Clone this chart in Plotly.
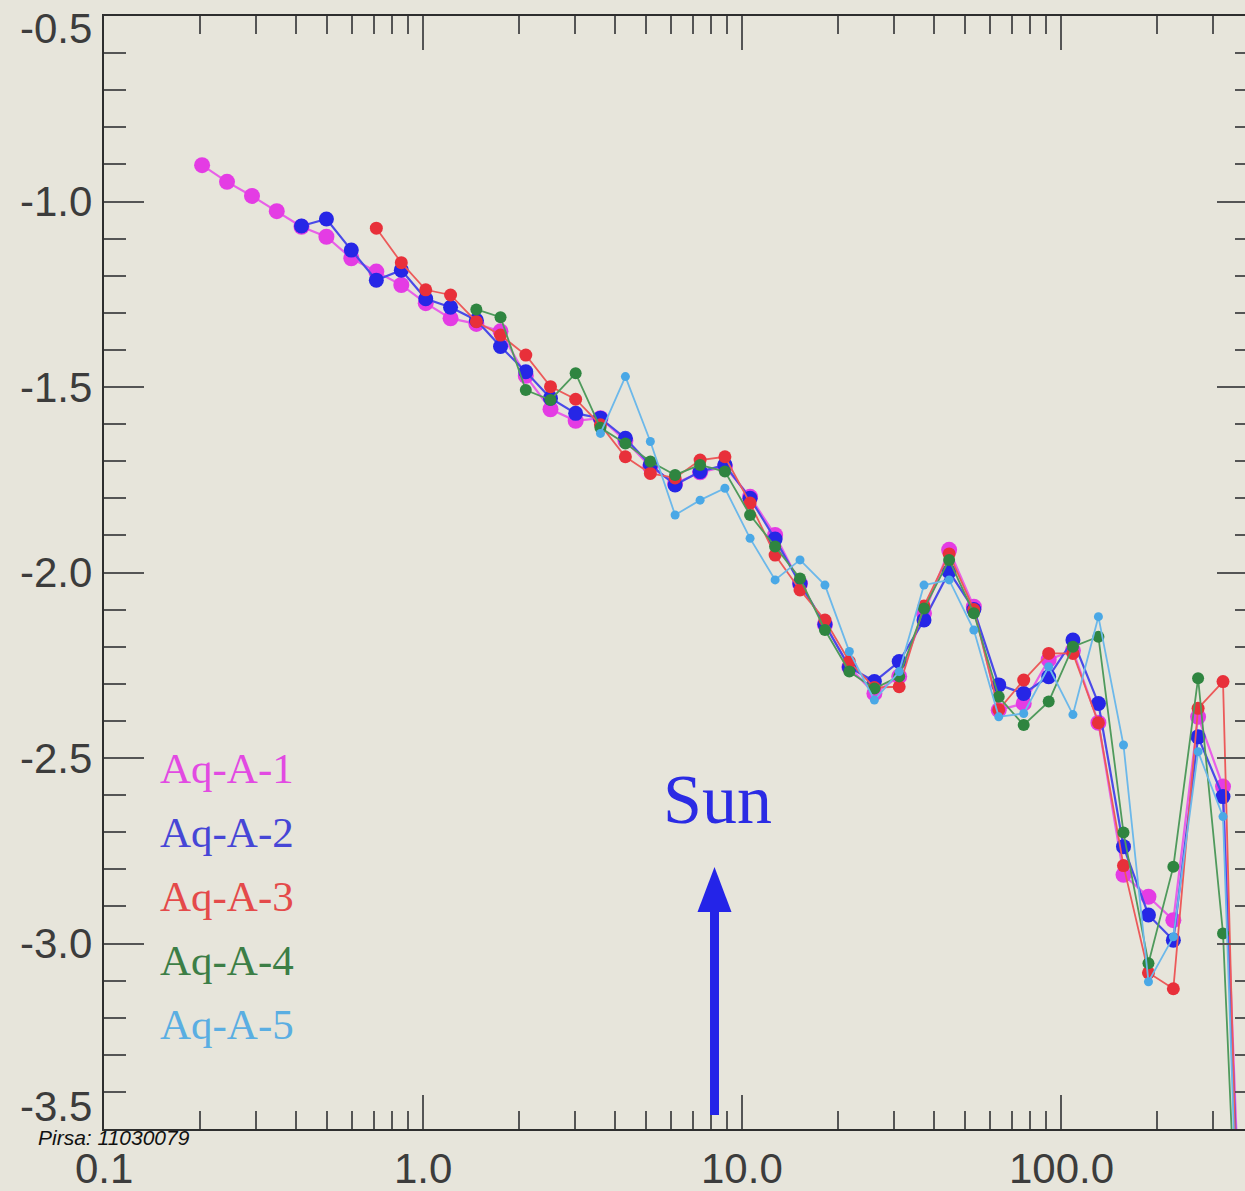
import math
import plotly.graph_objects as go

# ---------------- data ----------------
radius = [0.203, 0.243, 0.291, 0.348, 0.416, 0.498, 0.596, 0.714, 0.855, 1.02,
          1.22, 1.47, 1.75, 2.10, 2.51, 3.01, 3.60, 4.31, 5.16, 6.17,
          7.39, 8.84, 10.6, 12.7, 15.2, 18.2, 21.7, 26.0, 31.1, 37.2,
          44.6, 53.3, 63.8, 76.4, 91.5, 109.0, 131.0, 157.0, 188.0, 225.0,
          269.0, 322.0, 385.0]

aq_a_1 = [-0.902, -0.947, -0.985, -1.026, -1.068, -1.095, -1.153, -1.189, -1.225, -1.274,
          -1.315, -1.330, -1.350, -1.470, -1.560, -1.591, -1.584, -1.645, -1.715, -1.760,
          -1.730, -1.715, -1.796, -1.899, -2.030, -2.140, -2.255, -2.326, -2.280, -2.110,
          -1.939, -2.092, -2.371, -2.353, -2.235, -2.210, -2.405, -2.815, -2.874, -2.937,
          -2.389, -2.577, -4.30]

aq_a_2 = [None, None, None, None, -1.066, -1.047, -1.131, -1.212, -1.185, -1.262,
          -1.285, -1.320, -1.391, -1.459, -1.530, -1.571, -1.584, -1.638, -1.710, -1.764,
          -1.728, -1.710, -1.800, -1.910, -2.030, -2.140, -2.255, -2.294, -2.240, -2.128,
          -1.998, -2.100, -2.303, -2.326, -2.281, -2.182, -2.353, -2.739, -2.923, -2.991,
          -2.443, -2.604, -4.40]

aq_a_3 = [None, None, None, None, None, None, None, -1.072, -1.165, -1.238,
          -1.252, -1.324, -1.360, -1.414, -1.499, -1.533, -1.602, -1.688, -1.733, -1.745,
          -1.697, -1.688, -1.813, -1.953, -2.047, -2.128, -2.240, -2.310, -2.308, -2.090,
          -1.950, -2.100, -2.370, -2.290, -2.218, -2.218, -2.405, -2.790, -3.079, -3.122,
          -2.366, -2.294, -4.80]

aq_a_4 = [None, None, None, None, None, None, None, None, None, None,
          None, -1.291, -1.312, -1.508, -1.535, -1.463, -1.610, -1.652, -1.701, -1.737,
          -1.710, -1.728, -1.845, -1.930, -2.016, -2.155, -2.267, -2.313, -2.280, -2.097,
          -1.966, -2.110, -2.335, -2.411, -2.348, -2.200, -2.173, -2.701, -3.053, -2.793,
          -2.285, -2.973, -4.50]

aq_a_5 = [None, None, None, None, None, None, None, None, None, None,
          None, None, None, None, None, None, -1.625, -1.472, -1.647, -1.845,
          -1.805, -1.773, -1.908, -2.020, -1.966, -2.034, -2.213, -2.344, -2.267, -2.034,
          -2.020, -2.155, -2.389, -2.380, -2.254, -2.383, -2.119, -2.465, -3.103, -2.982,
          -2.483, -2.658, -4.60]

series_names = ["Aq-A-1", "Aq-A-2", "Aq-A-3", "Aq-A-4", "Aq-A-5"]
series_values = [aq_a_1, aq_a_2, aq_a_3, aq_a_4, aq_a_5]

x_tick_vals = [0.1, 1.0, 10.0, 100.0]
x_tick_text = ["0.1", "1.0", "10.0", "100.0"]
x_minor_vals = [0.2, 0.3, 0.4, 0.5, 0.6, 0.7, 0.8, 0.9,
                2, 3, 4, 5, 6, 7, 8, 9,
                20, 30, 40, 50, 60, 70, 80, 90,
                200, 300]
y_tick_vals = [-0.5, -1.0, -1.5, -2.0, -2.5, -3.0, -3.5]
y_tick_text = ["-0.5", "-1.0", "-1.5", "-2.0", "-2.5", "-3.0", "-3.5"]

sun_radius = 8.2
sun_label = "Sun"
watermark = "Pirsa: 11030079"

# ---------------- style ----------------
colors = ["#e43ce4", "#2626e6", "#e8303a", "#2f8540", "#4aa8e6"]
line_colors = ["#e860e8", "#4a4ae8", "#ec5a5a", "#4f9a5c", "#6cb8ea"]
label_colors = ["#e24ae2", "#4646d6", "#e44a4a", "#3c7e46", "#5aaee2"]
marker_sizes = [16, 15, 13, 12, 9]
line_widths = [2.2, 2.2, 1.8, 1.8, 1.8]
bg = "#e7e5db"
axis_col = "#2e2e2e"
tick_col = "#555555"
txt_col = "#3c3c3c"

W, H = 1245, 1191
ML, MT, MB = 104, 16, 62
x_hi = -1 + (W - ML) / 319.0

fig = go.Figure()
for name, vals, c, lc, ms, lw in zip(series_names, series_values, colors, line_colors,
                                     marker_sizes, line_widths):
    fig.add_trace(go.Scatter(
        x=radius, y=vals, name=name, mode="lines+markers",
        line=dict(color=lc, width=lw),
        marker=dict(color=c, size=ms, line=dict(width=0)),
        connectgaps=False, showlegend=False, hoverinfo="skip"))

# helper trace for right-hand mirrored ticks
fig.add_trace(go.Scatter(x=[None], y=[None], yaxis="y2", showlegend=False,
                         hoverinfo="skip", mode="markers"))

fig.update_layout(
    width=W, height=H,
    margin=dict(l=ML, r=0, t=MT, b=MB, pad=0),
    paper_bgcolor=bg, plot_bgcolor=bg,
    showlegend=False,
    xaxis=dict(type="log", range=[-1, x_hi], showgrid=False, zeroline=False,
               showline=True, linecolor=axis_col, linewidth=2, mirror="ticks",
               ticks="inside", ticklen=34, tickwidth=2, tickcolor=tick_col,
               tickvals=x_tick_vals, showticklabels=False,
               minor=dict(ticks="inside", ticklen=18, tickwidth=2, tickcolor=tick_col,
                          tickvals=x_minor_vals, showgrid=False)),
    yaxis=dict(range=[-3.5, -0.5], showgrid=False, zeroline=False,
               showline=True, linecolor=axis_col, linewidth=2,
               ticks="inside", ticklen=40, tickwidth=2, tickcolor=tick_col,
               tickvals=y_tick_vals, showticklabels=False,
               minor=dict(ticks="inside", ticklen=22, tickwidth=2, tickcolor=tick_col,
                          dtick=0.1, showgrid=False)),
    yaxis2=dict(range=[-3.5, -0.5], overlaying="y", side="right", anchor="x",
                showgrid=False, zeroline=False, showline=False,
                ticks="inside", ticklen=28, tickwidth=2, tickcolor=tick_col,
                tickvals=y_tick_vals, showticklabels=False,
                minor=dict(ticks="inside", ticklen=10, tickwidth=2, tickcolor=tick_col,
                           dtick=0.1, showgrid=False)),
)

ann = []
# x tick labels
for v, t in zip(x_tick_vals, x_tick_text):
    ann.append(dict(x=math.log10(v), xref="x", y=0, yref="paper", text=t,
                    showarrow=False, xanchor="center", yanchor="middle", yshift=-39,
                    font=dict(family="Liberation Sans, Arial", size=42, color=txt_col)))
# y tick labels (end labels nudged inside like the original)
y_label_shift = {"-0.5": -12, "-3.5": 23}
for v, t in zip(y_tick_vals, y_tick_text):
    ann.append(dict(x=0, xref="paper", y=v, yref="y", text=t, showarrow=False,
                    xanchor="right", yanchor="middle", xshift=-10,
                    yshift=y_label_shift.get(t, 0),
                    font=dict(family="Liberation Sans, Arial", size=42, color=txt_col)))
# series labels
label_y0 = 768
for i, (name, c) in enumerate(zip(series_names, label_colors)):
    py = label_y0 + 64 * i
    ann.append(dict(x=(158 - ML) / (W - ML), xref="paper",
                    y=(H - MB - py) / (H - MB - MT), yref="paper",
                    text=name, showarrow=False, xanchor="left", yanchor="middle",
                    font=dict(family="Liberation Serif, Times New Roman", size=43, color=c)))
# Sun label
ann.append(dict(x=math.log10(sun_radius), xref="x", y=-2.613, yref="y", text=sun_label,
                showarrow=False, xanchor="center", yanchor="middle", xshift=3,
                font=dict(family="Liberation Serif, Times New Roman", size=70, color="#2b2be4")))
# watermark
ann.append(dict(x=(36 - ML) / (W - ML), xref="paper", y=0, yref="paper",
                text="<i>" + watermark + "</i>",
                showarrow=False, xanchor="left", yanchor="middle", yshift=-8,
                font=dict(family="Liberation Sans, Arial", size=21, color="#111111")))
fig.update_layout(annotations=ann)

# Sun arrow: shaft + head
arrow_col = "#2424e8"
fig.add_shape(type="line", xref="x", yref="y", x0=sun_radius, x1=sun_radius,
              y0=-3.462, y1=-2.86, line=dict(color=arrow_col, width=9))
fig.add_shape(type="path", xref="x", yref="y", xsizemode="pixel", ysizemode="pixel",
              xanchor=sun_radius, yanchor=-2.794,
              path="M -17,-45 L 17,-45 L 0,0 Z",
              fillcolor=arrow_col, line=dict(color=arrow_col, width=0))

fig.write_html("out.html")
